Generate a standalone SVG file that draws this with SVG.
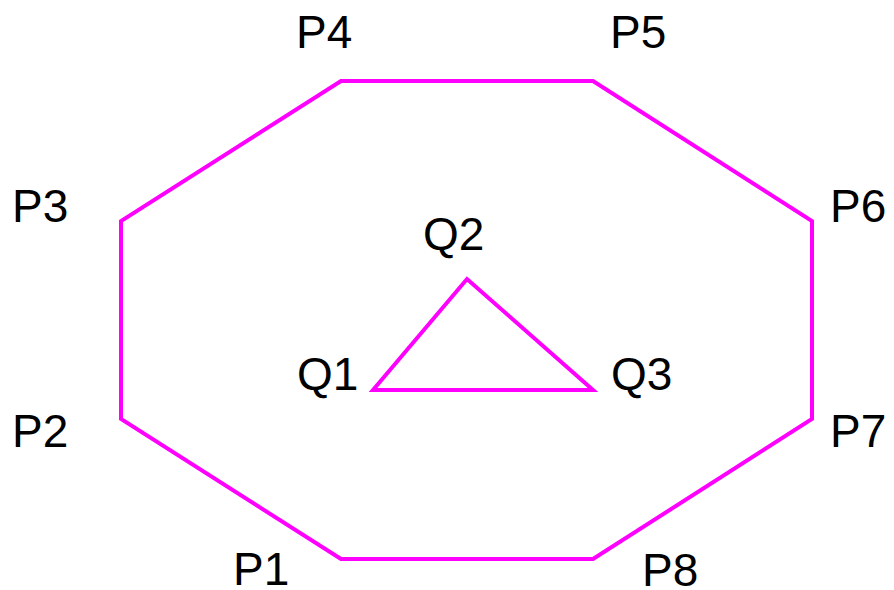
<svg xmlns="http://www.w3.org/2000/svg" width="894" height="590" viewBox="0 0 894 590">
<style>
.lbl{font-family:"Liberation Sans",Arial,sans-serif;font-size:46px;fill:#000}
.shape{fill:none;stroke:#FF00FF;stroke-width:4;stroke-linejoin:miter}
</style>
<rect width="894" height="590" fill="#fff"/>
<g id="connectors">
<polygon id="octagon" class="shape" points="341,81 593,81 812,221 812,419 593,559 341,559 121,419 121,221"/>
<polygon id="triangle" class="shape" points="373,390 467,279 593,390"/>
</g>
<g id="P1"><text class="lbl" x="233" y="585">P1</text></g>
<g id="P2"><text class="lbl" x="12" y="447">P2</text></g>
<g id="P3"><text class="lbl" x="12" y="222">P3</text></g>
<g id="P4"><text class="lbl" x="296" y="48">P4</text></g>
<g id="P5"><text class="lbl" x="610" y="48">P5</text></g>
<g id="P6"><text class="lbl" x="830" y="222">P6</text></g>
<g id="P7"><text class="lbl" x="830" y="447">P7</text></g>
<g id="P8"><text class="lbl" x="642" y="586">P8</text></g>
<g id="Q1"><text class="lbl" x="297" y="390">Q1</text></g>
<g id="Q2"><text class="lbl" x="423" y="250">Q2</text></g>
<g id="Q3"><text class="lbl" x="611" y="390">Q3</text></g>
</svg>
